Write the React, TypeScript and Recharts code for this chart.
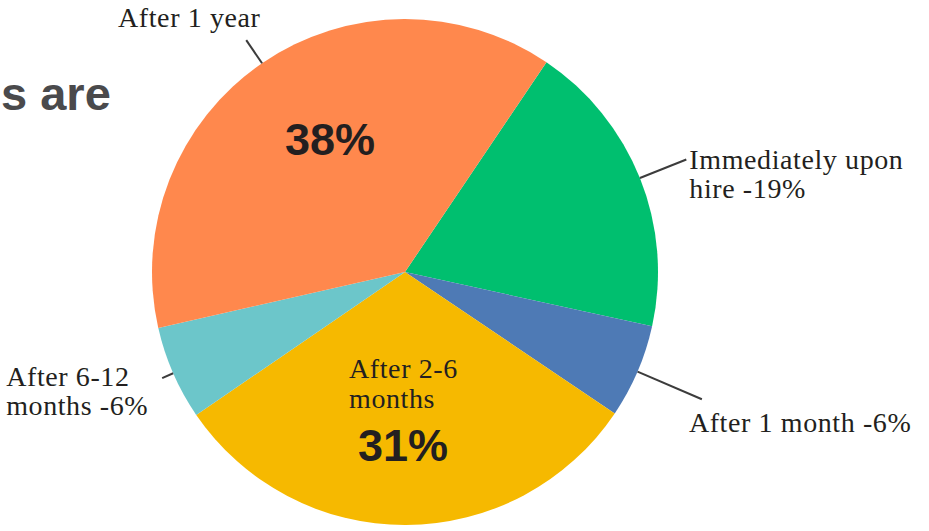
import { PieChart, Pie, Cell } from 'recharts'

const categories = [
  'Immediately upon hire',
  'After 1 month',
  'After 2-6 months',
  'After 6-12 months',
  'After 1 year',
]
const shares = [19, 6, 31, 6, 38]
const colors = ['#00BF6F', '#4E7AB5', '#F6B900', '#6CC6CA', '#FF884D']

const data = categories.map((name, i) => ({ name, value: shares[i] }))

// how each slice is labelled: leader line length, text offset from its end,
// how many words go on the first line, whether the outside label carries the %,
// and where the big inner % goes (if any)
const layout = [
  { line: 50, dx: 3, dy: 10, anchor: 'start', wrap: 2, pct: true, inner: null },
  { line: 70, dx: -13, dy: 33, anchor: 'start', wrap: 9, pct: true, inner: null },
  { line: 0, dx: 0, dy: 0, anchor: 'start', wrap: 2, pct: false, inner: { tx: -56, ty: 106, px: -2, py: 189 } },
  { line: 12, dx: -156, dy: 8, anchor: 'start', wrap: 2, pct: true, inner: null },
  { line: 28, dx: -57, dy: -13, anchor: 'middle', wrap: 9, pct: false, inner: { tx: 0, ty: 0, px: -75, py: -117 } },
]

const RAD = Math.PI / 180
const serif = '"Liberation Serif", "Times New Roman", serif'
const sans = '"Liberation Sans", Arial, sans-serif'

function lineText(i: number) {
  const words = categories[i].split(' ')
  const w = layout[i].wrap
  const first = words.slice(0, w).join(' ')
  const rest = words.slice(w).join(' ')
  const lines = rest ? [first, rest] : [first]
  if (layout[i].pct) lines[lines.length - 1] += ` -${shares[i]}%`
  return lines
}

const renderLabel = (props: any) => {
  const { cx, cy, midAngle, outerRadius, index } = props
  const l = layout[index]
  const cos = Math.cos(-midAngle * RAD)
  const sin = Math.sin(-midAngle * RAD)
  const lines = lineText(index)
  const els: any[] = []

  if (l.line > 0) {
    const x0 = cx + outerRadius * cos
    const y0 = cy + outerRadius * sin
    const x1 = cx + (outerRadius + l.line) * cos
    const y1 = cy + (outerRadius + l.line) * sin
    els.push(
      <line key="l" x1={x0} y1={y0} x2={x1} y2={y1} stroke="#3c3c3c" strokeWidth={2} />
    )
    els.push(
      <text key="t" x={x1 + l.dx} y={y1 + l.dy} textAnchor={l.anchor} fontFamily={serif} fontSize={28} letterSpacing={0.6} fill="#231f20">
        {lines.map((s, k) => (
          <tspan key={k} x={x1 + l.dx} dy={k === 0 ? 0 : 29}>{s}</tspan>
        ))}
      </text>
    )
  }

  if (l.inner) {
    if (l.line === 0) {
      els.push(
        <text key="n" x={cx + l.inner.tx} y={cy + l.inner.ty} fontFamily={serif} fontSize={28} letterSpacing={0.6} fill="#231f20">
          {lines.map((s, k) => (
            <tspan key={k} x={cx + l.inner!.tx} dy={k === 0 ? 0 : 30}>{s}</tspan>
          ))}
        </text>
      )
    }
    els.push(
      <text key="p" x={cx + l.inner.px} y={cy + l.inner.py} textAnchor="middle" fontFamily={sans} fontWeight="bold" fontSize={45} fill="#231f20">
        {`${shares[index]}%`}
      </text>
    )
  }

  return <g>{els}</g>
}

export default function App() {
  return (
    <div style={{ position: 'absolute', left: 0, top: 0, width: 929, height: 531, background: '#fff' }}>
      <PieChart width={929} height={531} margin={{ top: 0, right: 0, bottom: 0, left: 0 }}>
        <text x={1} y={110} textAnchor="start" fontFamily={sans} fontWeight="bold" fontSize={47} fill="#4a4a4c">
          s are
        </text>
        <Pie
          data={data}
          dataKey="value"
          nameKey="name"
          cx={405}
          cy={272}
          outerRadius={253}
          startAngle={56}
          endAngle={-304}
          stroke="none"
          labelLine={false}
          label={renderLabel}
          isAnimationActive={false}
        >
          {data.map((d, i) => (
            <Cell key={d.name} fill={colors[i]} />
          ))}
        </Pie>
      </PieChart>
    </div>
  )
}
